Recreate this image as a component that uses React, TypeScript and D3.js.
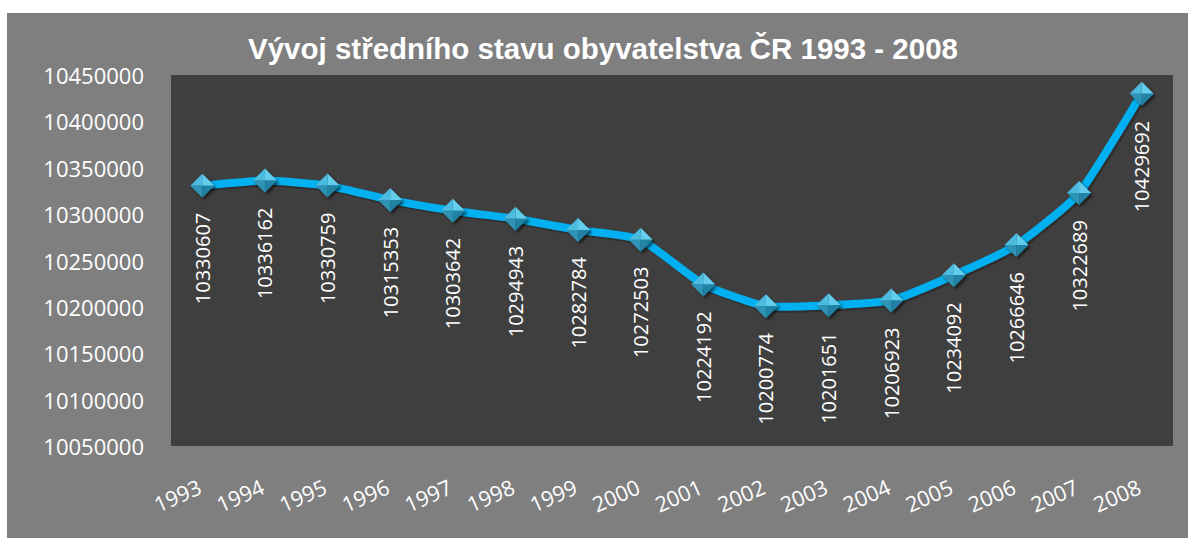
import React from "react";
import * as d3 from "d3";

const years = ["1993","1994","1995","1996","1997","1998","1999","2000","2001","2002","2003","2004","2005","2006","2007","2008"];
const population = [10330607,10336162,10330759,10315353,10303642,10294943,10282784,10272503,10224192,10200774,10201651,10206923,10234092,10266646,10322689,10429692];
const yTicks = [10050000,10100000,10150000,10200000,10250000,10300000,10350000,10400000,10450000];
const title = "Vývoj středního stavu obyvatelstva ČR 1993 - 2008";

const W = 1188, H = 538;
const plot = { left: 171, top: 75, right: 1173, bottom: 446 };

export default function App() {
  const x = d3.scaleBand<string>().domain(years).range([plot.left, plot.right]).padding(0);
  const y = d3.scaleLinear().domain([10050000, 10450000]).range([plot.bottom, plot.top]);
  const cx = (yr: string) => (x(yr) as number) + x.bandwidth() / 2;
  const pts: [number, number][] = years.map((yr, i) => [cx(yr), y(population[i])]);
  const line = d3.line().curve(d3.curveCardinal.tension(0.5))(pts) as string;
  const font = "'Open Sans', 'Noto Sans', sans-serif";
  const r = 12;
  return (
    <svg width={W} height={H} style={{ position: "absolute", left: 0, top: 0 }}>
      <defs>
        <filter id="sh" x="-50%" y="-50%" width="200%" height="200%">
          <feGaussianBlur in="SourceAlpha" stdDeviation="1.5" />
          <feOffset dx="2" dy="2" result="b" />
          <feComponentTransfer><feFuncA type="linear" slope="0.6" /></feComponentTransfer>
          <feMerge><feMergeNode /><feMergeNode in="SourceGraphic" /></feMerge>
        </filter>
      </defs>
      <rect x={0} y={0} width={W} height={H} fill="#ffffff" />
      <rect x={7} y={13} width={W - 7} height={H - 13} fill="#7f7f7f" />
      <rect x={plot.left} y={plot.top} width={plot.right - plot.left} height={plot.bottom - plot.top} fill="#3f3f3f" />
      <text x={603} y={59} textAnchor="middle" fill="#ffffff" fontFamily="'Liberation Sans', Arial, sans-serif" fontWeight="bold" fontSize={29.5}>{title}</text>
      {yTicks.map((t) => (
        <text key={t} x={144} y={y(t)} textAnchor="end" dominantBaseline="central" fill="#ffffff" fontFamily={font} fontSize={22}>{t}</text>
      ))}
      {years.map((yr) => (
        <text key={yr} transform={`translate(${cx(yr) + 1},${493}) rotate(-24)`} textAnchor="end" fill="#ffffff" fontFamily={font} fontSize={21.5}>{yr}</text>
      ))}
      <path d={line} fill="none" stroke="#000" strokeOpacity={0.25} strokeWidth={8} transform="translate(2,2)" />
      <path d={line} fill="none" stroke="#00b0f0" strokeWidth={8} strokeLinejoin="round" />
      {pts.map(([px, py], i) => (
        <g key={i} transform={`translate(${px},${py})`} filter="url(#sh)">
          <polygon points={`0,${-r} ${r},0 0,0`} fill="#63cdeb" />
          <polygon points={`0,${-r} ${-r},0 0,0`} fill="#4cbbe0" />
          <polygon points={`${-r},0 0,${r} 0,0`} fill="#2e93b4" />
          <polygon points={`${r},0 0,${r} 0,0`} fill="#2382a3" />
        </g>
      ))}
      {pts.map(([px, py], i) => (
        <text key={"l" + i} transform={`translate(${px},${py + 27}) rotate(-90)`} textAnchor="end" dominantBaseline="central" fill="#ffffff" fontFamily={font} fontSize={20}>{population[i]}</text>
      ))}
    </svg>
  );
}
